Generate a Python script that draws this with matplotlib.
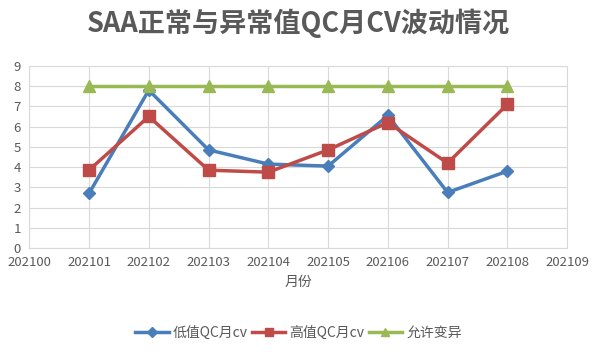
import numpy as np
import matplotlib.pyplot as plt

plt.rcParams['font.family'] = ['Noto Sans CJK SC', 'DejaVu Sans']

months = [202101, 202102, 202103, 202104, 202105, 202106, 202107, 202108]
low_cv = [2.7, 7.8, 4.85, 4.15, 4.05, 6.55, 2.75, 3.8]
high_cv = [3.85, 6.5, 3.85, 3.75, 4.85, 6.2, 4.2, 7.1]
allowed = [8, 8, 8, 8, 8, 8, 8, 8]
xticks = list(range(202100, 202110))
yticks = list(range(0, 10))

txt = '#595959'
fig = plt.figure(figsize=(5.97, 3.56), dpi=100)
ax = fig.add_axes([0.049, 0.303, 0.901, 0.512])

ax.plot(months, low_cv, color='#4A7EBB', lw=2.5, marker='D', ms=6, label='低值QC月cv')
ax.plot(months, high_cv, color='#BE4B48', lw=2.5, marker='s', ms=8, label='高值QC月cv')
ax.plot(months, allowed, color='#98B954', lw=2.5, marker='^', ms=8, label='允许变异')

ax.set_xlim(202100, 202109)
ax.set_ylim(0, 9)
ax.set_xticks(xticks)
ax.set_xticklabels([str(t) for t in xticks])
ax.set_yticks(yticks)
ax.grid(True, color='#D9D9D9', lw=0.8)
ax.set_axisbelow(True)
for s in ax.spines.values():
    s.set_color('#D9D9D9')
ax.tick_params(length=0, colors=txt, labelsize=9.5, pad=6)
ax.set_xlabel('月份', color=txt, fontsize=10, labelpad=4)

fig.suptitle('SAA正常与异常值QC月CV波动情况', x=0.5, y=0.975, fontsize=19.5,
             fontweight='bold', color=txt)
fig.legend(loc='center', bbox_to_anchor=(0.5, 0.065), ncol=3, frameon=False,
           fontsize=10, labelcolor=txt, handlelength=2.4, columnspacing=0.3,
           handletextpad=0.3, markerscale=0.8)

fig.savefig('out.png', dpi=100)
